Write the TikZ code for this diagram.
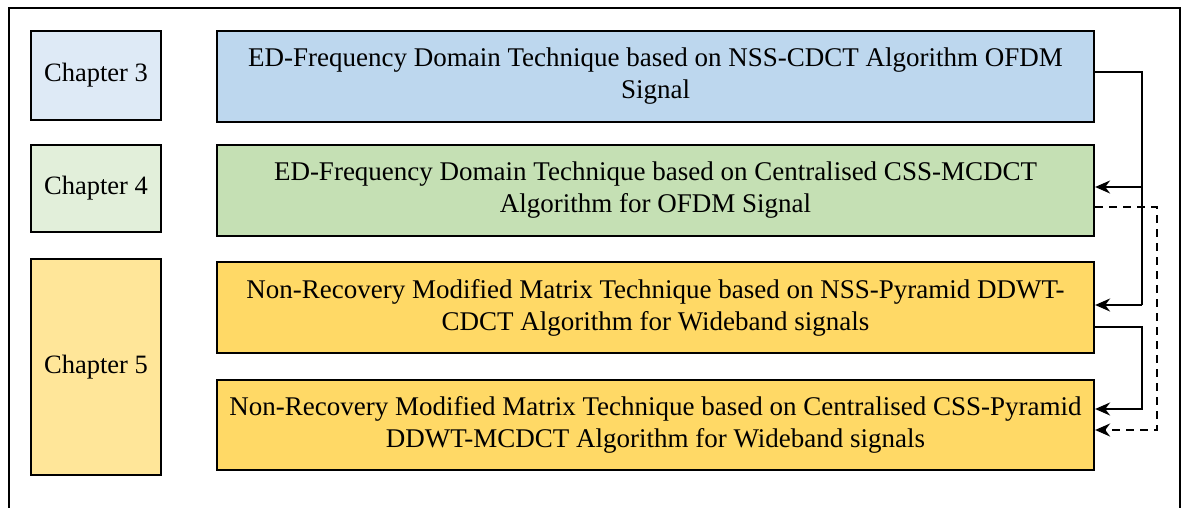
\documentclass[tikz,border=0pt]{standalone}
\usepackage{fontspec}
\setmainfont{Liberation Serif}
\usetikzlibrary{arrows.meta,calc}
\definecolor{chA}{HTML}{DEEAF6}
\definecolor{bxA}{HTML}{BDD7EE}
\definecolor{chB}{HTML}{E2EFDA}
\definecolor{bxB}{HTML}{C5E0B4}
\definecolor{chC}{HTML}{FFE699}
\definecolor{bxC}{HTML}{FFD966}
\tikzset{
  chapbox/.style={draw=black, line width=2.2pt, minimum width=130pt, inner sep=0pt,
    font=\fontsize{26.5}{33}\selectfont},
  mainbox/.style={draw=black, line width=2.2pt, minimum width=877pt, minimum height=91pt,
    inner sep=0pt, align=center, font=\fontsize{27}{32}\selectfont},
  conn/.style={line width=2pt, -{Stealth[length=15pt,width=13pt]}},
  dconn/.style={conn, dash pattern=on 8pt off 6pt},
}
\begin{document}
\begin{tikzpicture}[x=1pt,y=-1pt]
\useasboundingbox (0,0) rectangle (1186,507);
\clip (0,0) rectangle (1186,507);
\fill[white] (0,0) rectangle (1186,507);
\draw[line width=1.5pt] (9,520) -- (9,8) -- (1180,8) -- (1180,520);
\node[chapbox, fill=chA, minimum height=89pt] (c3) at (96,75.5) {Chapter 3};
\node[chapbox, fill=chB, minimum height=87pt] (c4) at (96,188.5) {Chapter 4};
\node[chapbox, fill=chC, minimum height=216pt] (c5) at (96,367) {Chapter 5};
\node[mainbox, fill=bxA] (b1) at (655.5,76.5) {ED-Frequency Domain Technique based on NSS-CDCT Algorithm OFDM\\Signal};
\node[mainbox, fill=bxB] (b2) at (655.5,190.5) {ED-Frequency Domain Technique based on Centralised CSS-MCDCT\\Algorithm for OFDM Signal};
\node[mainbox, fill=bxC] (b3) at (655.5,307.5) {Non-Recovery Modified Matrix Technique based on NSS-Pyramid DDWT-\\CDCT Algorithm for Wideband signals};
\node[mainbox, fill=bxC, minimum height=90pt] (b4) at (655.5,425) {Non-Recovery Modified Matrix Technique based on Centralised CSS-Pyramid\\DDWT-MCDCT Algorithm for Wideband signals};
% routing coordinates
\coordinate (v1) at (1142,0);
\coordinate (v2) at (1157,0);
\draw[line width=2pt] ($(b1.east)+(0,-4.5)$) -| ($(v1|-b3.east)+(0,-2.5)$);
\draw[conn] ($(v1|-b2.east)+(0,-3.5)$) -- ($(b2.east)+(0,-3.5)$);
\draw[conn] ($(v1|-b3.east)+(0,-2.5)$) -- ($(b3.east)+(0,-2.5)$);
\draw[conn] ($(b3.east)+(0,19.5)$) -| ($(v1|-b4.east)+(0,-16)$) -- ($(b4.east)+(0,-16)$);
\draw[dconn] ($(b2.east)+(0,16.5)$) -| ($(v2|-b4.east)+(0,5)$) -- ($(b4.east)+(0,5)$);
\end{tikzpicture}
\end{document}
